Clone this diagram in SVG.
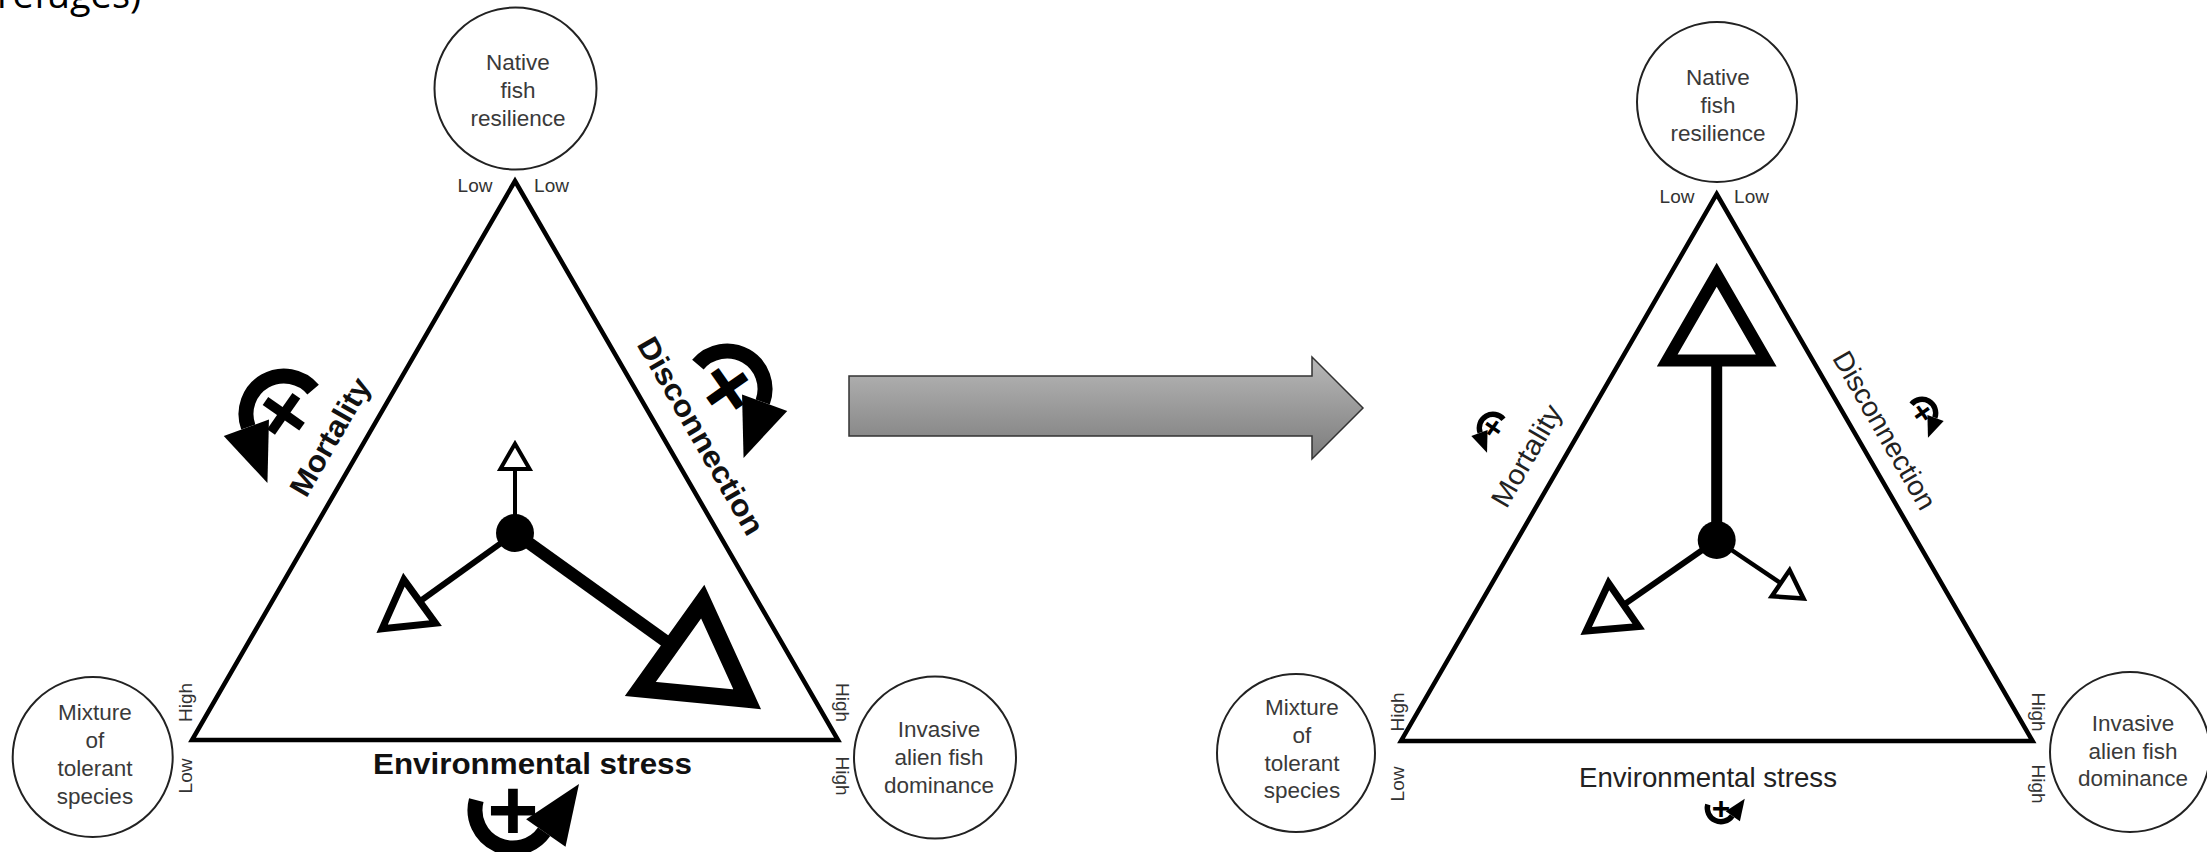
<svg xmlns="http://www.w3.org/2000/svg" width="2207" height="852" viewBox="0 0 2207 852">
<defs>
<style>
.tri{fill:none;stroke:#000;stroke-width:4.5;stroke-linejoin:miter}
.node{fill:#fff;stroke:#222;stroke-width:2}
.nt{font-family:"Liberation Sans",Arial,sans-serif;font-size:22.5px;fill:#3a3a3a;text-anchor:middle}
.lh{font-family:"Liberation Sans",Arial,sans-serif;font-size:19px;fill:#333;text-anchor:middle}
.lb{font-family:"Liberation Sans",Arial,sans-serif;font-weight:bold;font-size:30px;fill:#111;text-anchor:middle}
.lr{font-family:"Liberation Sans",Arial,sans-serif;font-size:28px;fill:#222;text-anchor:middle}
.shaft{stroke:#000;fill:none;stroke-linecap:butt}
.head{fill:#fff;stroke:#000;stroke-linejoin:miter}
.plus{font-family:"Liberation Sans",Arial,sans-serif;font-weight:bold;font-size:88px;fill:#000;text-anchor:middle}
.top{font-family:"Open Sans","Liberation Sans",sans-serif;font-size:38px;fill:#000}
</style>
<linearGradient id="gg" x1="0" y1="0" x2="0" y2="1">
<stop offset="0" stop-color="#b8b8b8"/><stop offset="1" stop-color="#7c7c7c"/>
</linearGradient>
<g id="loop">
<path d="M -36.7 -9.84 A 38 38 0 0 0 31.13 21.8" fill="none" stroke="#000" stroke-width="15"/>
<polygon points="52.5,36.8 13.1,9.2 66,-26" fill="#000"/>
</g>
</defs>
<rect width="2207" height="852" fill="#fff"/>
<text class="top" x="-3" y="8">refuges)</text>

<!-- LEFT PANEL -->
<g id="left-triangle"><polygon class="tri" points="515,181 838,740 192,740"/></g>
<g id="left-native"><circle class="node" cx="515.5" cy="88.5" r="81"/>
<text class="nt" x="518" y="70">Native</text><text class="nt" x="518" y="98">fish</text><text class="nt" x="518" y="126">resilience</text></g>
<g id="left-mixture"><circle class="node" cx="92.7" cy="757" r="80"/>
<text class="nt" x="95" y="720">Mixture</text><text class="nt" x="95" y="748">of</text><text class="nt" x="95" y="776">tolerant</text><text class="nt" x="95" y="804">species</text></g>
<g id="left-invasive"><circle class="node" cx="935" cy="757.5" r="81"/>
<text class="nt" x="939" y="737">Invasive</text><text class="nt" x="939" y="765">alien fish</text><text class="nt" x="939" y="793">dominance</text></g>
<g id="left-axis-labels">
<text class="lh" x="475" y="192">Low</text><text class="lh" x="551.5" y="192">Low</text>
<text class="lh" transform="translate(192,702.5) rotate(-90)">High</text>
<text class="lh" transform="translate(192,776) rotate(-90)">Low</text>
<text class="lh" transform="translate(836,702.5) rotate(90)">High</text>
<text class="lh" transform="translate(836,776) rotate(90)">High</text>
</g>
<g id="left-mortality"><text class="lb" transform="translate(339,442) rotate(-60)" textLength="131" lengthAdjust="spacingAndGlyphs">Mortality</text>
<use href="#loop" transform="translate(284,414) rotate(125)"/>
<text class="plus" transform="translate(284,414) rotate(125)" y="29.5">+</text></g>
<g id="left-disconnection"><text class="lb" transform="translate(692,441) rotate(60)" textLength="223" lengthAdjust="spacingAndGlyphs">Disconnection</text>
<use href="#loop" transform="translate(727,389) scale(-1,1) rotate(125)"/>
<text class="plus" transform="translate(727,389) scale(-1,1) rotate(125)" y="29.5">+</text></g>
<g id="left-stress"><text class="lb" x="532.5" y="774" textLength="319" lengthAdjust="spacingAndGlyphs">Environmental stress</text>
<use href="#loop" transform="translate(513,810)"/>
<text class="plus" transform="translate(513,810)" y="29.5">+</text></g>
<g id="left-state">
<circle cx="515" cy="533" r="19" fill="#000"/>
<path class="shaft" d="M515 533 L515 469" stroke-width="4"/>
<polygon class="head" points="515,443.7 529.6,468.9 500.4,468.9" stroke-width="4"/>
<path class="shaft" d="M515 533 L419.7 601.5" stroke-width="6"/>
<polygon class="head" points="382.1,628.8 435.5,623.2 403.9,579.8" stroke-width="7"/>
<path class="shaft" d="M515 533 L671.5 645.3" stroke-width="12.5"/>
<polygon class="head" points="747.2,699.3 640.3,689 702.7,601.6" stroke-width="17"/>
</g>

<!-- TRANSITION ARROW -->
<g id="transition"><polygon points="849,376 1312,376 1312,357 1363,408 1312,459 1312,436 849,436" fill="url(#gg)" stroke="#333" stroke-width="1.5"/></g>

<!-- RIGHT PANEL -->
<g id="right-triangle"><polygon class="tri" points="1716.7,194 2032.6,741 1401,741"/></g>
<g id="right-native"><circle class="node" cx="1717" cy="102" r="80"/>
<text class="nt" x="1718" y="85">Native</text><text class="nt" x="1718" y="113">fish</text><text class="nt" x="1718" y="141">resilience</text></g>
<g id="right-mixture"><circle class="node" cx="1296" cy="753" r="79"/>
<text class="nt" x="1302" y="715">Mixture</text><text class="nt" x="1302" y="743">of</text><text class="nt" x="1302" y="771">tolerant</text><text class="nt" x="1302" y="798">species</text></g>
<g id="right-invasive"><circle class="node" cx="2130" cy="752" r="80"/>
<text class="nt" x="2133" y="731">Invasive</text><text class="nt" x="2133" y="759">alien fish</text><text class="nt" x="2133" y="786">dominance</text></g>
<g id="right-axis-labels">
<text class="lh" x="1677" y="203">Low</text><text class="lh" x="1751.5" y="203">Low</text>
<text class="lh" transform="translate(1404,712) rotate(-90)">High</text>
<text class="lh" transform="translate(1404,784) rotate(-90)">Low</text>
<text class="lh" transform="translate(2032,712) rotate(90)">High</text>
<text class="lh" transform="translate(2032,784) rotate(90)">High</text>
</g>
<g id="right-mortality"><text class="lr" transform="translate(1534.7,460.5) rotate(-60)" textLength="113" lengthAdjust="spacingAndGlyphs">Mortality</text>
<use href="#loop" transform="translate(1493,428) rotate(125) scale(0.36)"/>
<text class="plus" transform="translate(1493,428) rotate(125) scale(0.36)" y="29.5">+</text></g>
<g id="right-disconnection"><text class="lr" transform="translate(1876.3,435) rotate(60)" textLength="178" lengthAdjust="spacingAndGlyphs">Disconnection</text>
<use href="#loop" transform="translate(1922,413) scale(-0.36,0.36) rotate(125)"/>
<text class="plus" transform="translate(1922,413) scale(-0.36,0.36) rotate(125)" y="29.5">+</text></g>
<g id="right-stress"><text class="lr" x="1708" y="787" textLength="258" lengthAdjust="spacingAndGlyphs">Environmental stress</text>
<use href="#loop" transform="translate(1721,808) scale(0.36)"/>
<text class="plus" transform="translate(1721,808) scale(0.36)" y="29.5">+</text></g>
<g id="right-state">
<circle cx="1716.7" cy="540" r="19" fill="#000"/>
<path class="shaft" d="M1716.7 540 L1716.7 360.6" stroke-width="11"/>
<polygon class="head" points="1716.7,274.8 1766.2,360.6 1667.2,360.6" stroke-width="12"/>
<path class="shaft" d="M1716.7 540 L1623.6 604.9" stroke-width="6"/>
<polygon class="head" points="1586.2,631 1638.6,626.5 1608.6,583.3" stroke-width="7"/>
<path class="shaft" d="M1716.7 540 L1780.7 583.2" stroke-width="4.5"/>
<polygon class="head" points="1803.5,598.5 1771.8,596.3 1789.6,570.1" stroke-width="4.5"/>
</g>
</svg>
